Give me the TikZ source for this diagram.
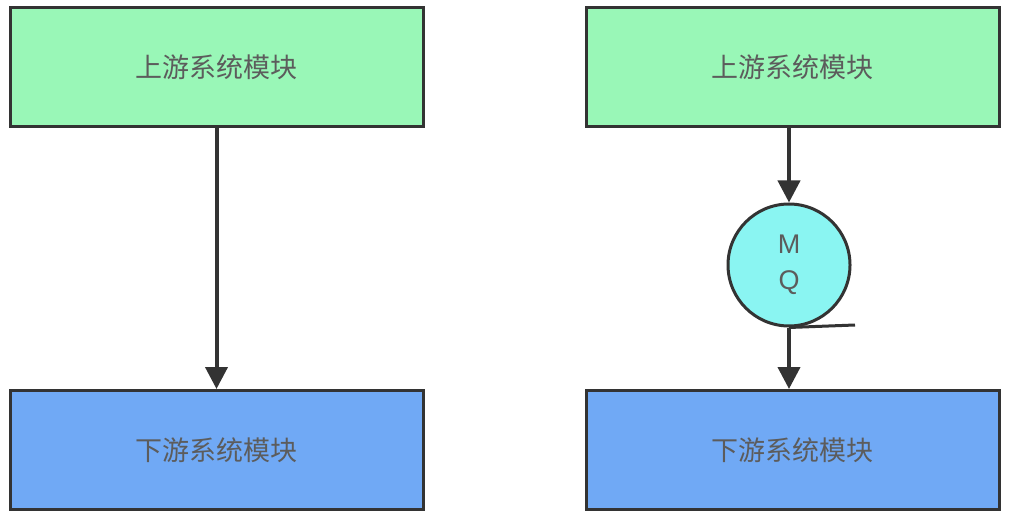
\documentclass[tikz,border=0pt]{standalone}
\usepackage{fontspec}
\newfontfamily\cjk{Noto Sans CJK SC}
\setmainfont{Liberation Sans}
\usetikzlibrary{arrows.meta}
\definecolor{up}{HTML}{99F7B7}
\definecolor{down}{HTML}{70A9F5}
\definecolor{mq}{HTML}{8AF5F2}
\definecolor{ln}{HTML}{333333}
\tikzset{
 box/.style={draw=ln,line width=3pt,minimum width=413pt,minimum height=119pt,font=\cjk\fontsize{27}{30}\selectfont,text=ln!80},
 conn/.style={draw=ln,line width=4pt,-{Triangle[length=22pt,width=22pt]}}
}
\begin{document}
\begin{tikzpicture}[x=1pt,y=-1pt]
\useasboundingbox (0,0) rectangle (1011,521);
\node[box,fill=up] (u1) at (216.5,67.5) {上游系统模块};
\node[box,fill=down] (d1) at (216.5,450) {下游系统模块};
\node[box,fill=up] (u2) at (792.5,67.5) {上游系统模块};
\node[box,fill=down] (d2) at (792.5,450) {下游系统模块};
\node[draw=ln,line width=3pt,fill=mq,circle,minimum size=122pt,inner sep=0pt,align=center,font=\fontsize{27}{36}\selectfont,text=ln!80] (mq) at (789,265) {M\\Q};
\coordinate (tail) at (855,325);
\draw[ln,line width=3pt] (mq.south) -- (tail);
\draw[conn] (u1.south) -- (d1.north);
\draw[conn] (u2.south -| mq.north) -- (mq.north);
\draw[conn] (mq.south) -- (d2.north -| mq.south);
\end{tikzpicture}
\end{document}
